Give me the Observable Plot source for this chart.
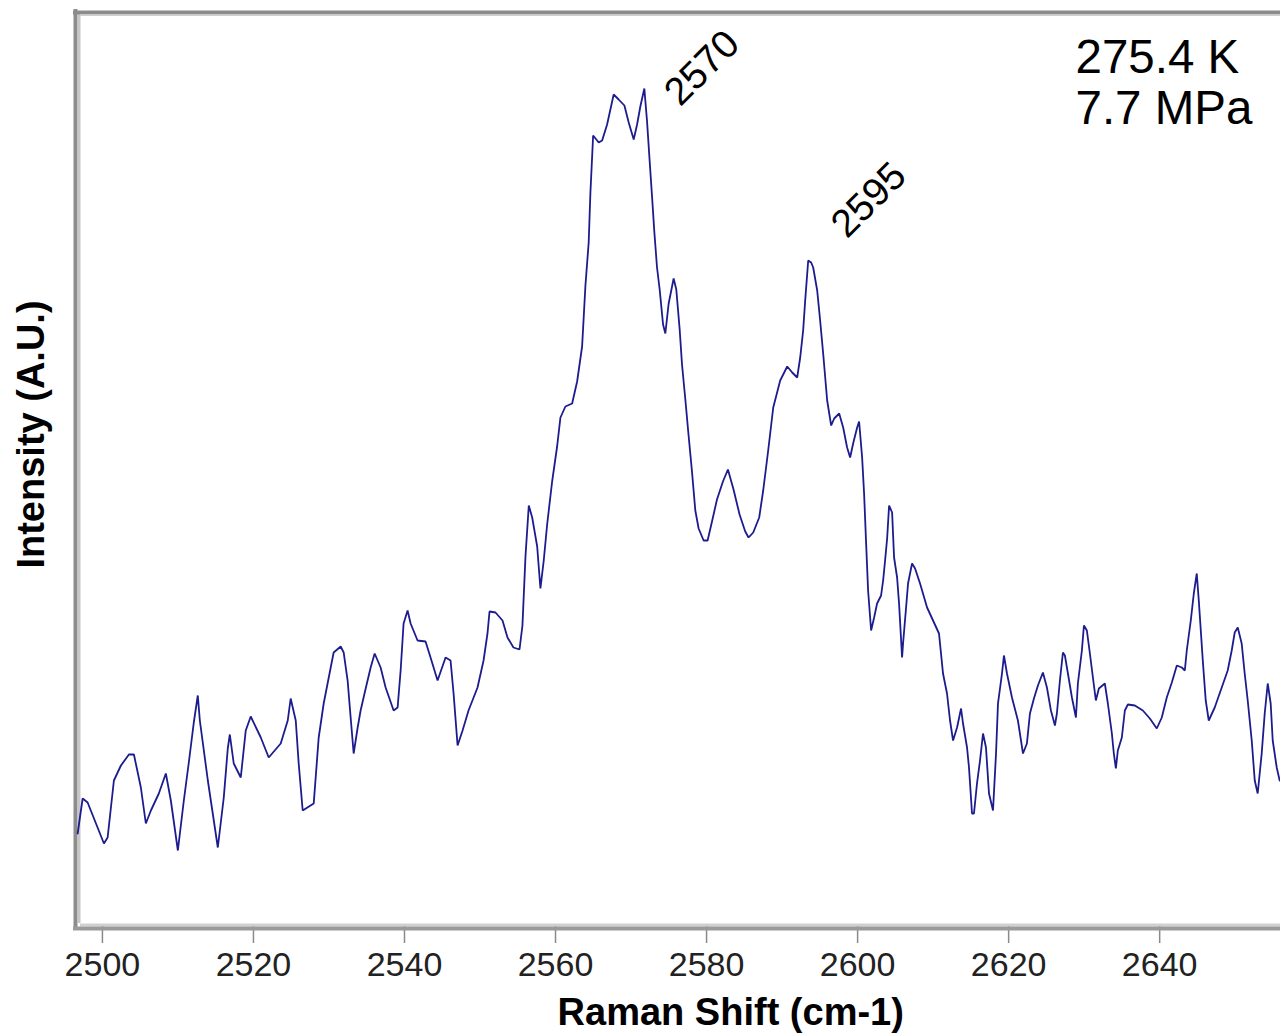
<!DOCTYPE html>
<html>
<head>
<meta charset="utf-8">
<script src="https://cdn.jsdelivr.net/npm/d3@7"></script>
<script src="https://cdn.jsdelivr.net/npm/@observablehq/plot@0.6"></script>
<style>
  html, body { margin: 0; padding: 0; background: #ffffff; }
  #chart svg { display: block; }
</style>
</head>
<body>
<div id="chart"></div>
<script>
// Raman shift (cm-1) of each sampled point of the spectrum
const ramanShift = [
  2496.72, 2497.38, 2498.04, 2500.20, 2500.69, 2501.52, 2502.45, 2503.51, 2504.17, 2505.09,
  2505.75, 2506.42, 2507.47, 2508.40, 2509.06, 2509.99, 2510.78, 2511.44, 2512.10, 2512.63,
  2512.90, 2513.96, 2515.28, 2516.07, 2516.60, 2516.87, 2517.39, 2518.32, 2518.98, 2519.64,
  2520.97, 2522.02, 2523.61, 2524.54, 2524.93, 2525.60, 2525.99, 2526.52, 2527.98, 2528.64,
  2529.30, 2530.23, 2530.62, 2531.55, 2531.95, 2532.47, 2532.87, 2533.27, 2533.80, 2534.19,
  2534.86, 2535.52, 2536.05, 2536.84, 2537.50, 2538.56, 2539.09, 2539.49, 2539.88, 2540.41,
  2540.81, 2541.73, 2542.79, 2543.45, 2544.38, 2545.44, 2546.10, 2546.50, 2547.03, 2547.69,
  2548.48, 2549.67, 2550.47, 2550.99, 2551.26, 2552.05, 2552.98, 2553.64, 2554.43, 2555.23,
  2555.62, 2556.02, 2556.46, 2556.91, 2557.57, 2558.00, 2558.44, 2558.89, 2559.55, 2560.21,
  2560.65, 2561.31, 2562.20, 2562.86, 2563.52, 2563.96, 2564.39, 2564.62, 2564.98, 2565.72,
  2566.17, 2566.83, 2567.70, 2568.36, 2569.12, 2569.69, 2570.35, 2570.80, 2571.23, 2571.76,
  2572.12, 2572.46, 2572.78, 2573.08, 2573.44, 2573.79, 2574.24, 2574.54, 2574.98, 2575.64,
  2575.99, 2576.43, 2576.75, 2577.19, 2577.62, 2578.07, 2578.51, 2578.95, 2579.61, 2580.14,
  2580.72, 2581.38, 2582.17, 2582.83, 2583.57, 2584.37, 2585.12, 2585.56, 2586.18, 2586.97,
  2587.50, 2588.16, 2588.83, 2589.75, 2590.68, 2591.34, 2592.00, 2592.40, 2592.79, 2593.06,
  2593.46, 2593.85, 2594.12, 2594.65, 2595.04, 2595.44, 2595.97, 2596.50, 2596.90, 2597.56,
  2598.09, 2598.61, 2599.01, 2599.41, 2599.94, 2600.20, 2600.60, 2600.86, 2601.13, 2601.39,
  2601.79, 2602.19, 2602.58, 2603.11, 2603.38, 2603.64, 2603.91, 2604.17, 2604.57, 2604.83,
  2605.23, 2605.49, 2605.89, 2606.02, 2606.42, 2606.68, 2607.21, 2607.61, 2608.27, 2609.20,
  2609.99, 2610.78, 2611.31, 2611.84, 2612.24, 2612.64, 2613.17, 2613.70, 2613.96, 2614.49,
  2614.75, 2615.15, 2615.41, 2615.81, 2616.21, 2616.61, 2617.00, 2617.40, 2617.93, 2618.33,
  2618.59, 2619.12, 2619.38, 2619.78, 2620.44, 2621.23, 2621.90, 2622.42, 2622.82, 2623.35,
  2623.88, 2624.54, 2625.07, 2625.60, 2626.13, 2626.39, 2626.79, 2627.19, 2627.45, 2627.85,
  2628.38, 2628.91, 2629.17, 2629.70, 2629.97, 2630.36, 2630.76, 2631.16, 2631.55, 2631.95,
  2632.74, 2633.14, 2633.67, 2633.93, 2634.20, 2634.46, 2634.99, 2635.39, 2635.79, 2636.71,
  2637.77, 2638.70, 2639.62, 2640.28, 2640.94, 2641.61, 2642.27, 2642.93, 2643.33, 2643.59,
  2644.12, 2644.52, 2644.91, 2645.18, 2645.71, 2646.10, 2646.50, 2647.29, 2648.22, 2649.01,
  2649.54, 2649.94, 2650.34, 2650.86, 2651.26, 2651.66, 2652.19, 2652.59, 2652.98, 2653.51,
  2653.91, 2654.31, 2654.70, 2654.97, 2655.50, 2655.89
];

// Intensity (arbitrary units) at each Raman shift
const intensity = [
  92, 127, 123, 82, 88, 145, 160, 171, 171, 138,
  102, 115, 132, 152, 125, 75, 125, 163, 203, 230,
  205, 145, 78, 128, 177, 191, 162, 148, 195, 209,
  188, 168, 182, 205, 227, 205, 162, 115, 122, 188,
  222, 258, 273, 279, 273, 245, 208, 172, 198, 215,
  237, 258, 272, 258, 238, 215, 218, 255, 302, 315,
  302, 285, 284, 268, 245, 268, 265, 232, 180, 195,
  215, 238, 265, 292, 314, 313, 305, 288, 278, 276,
  300, 369, 420, 408, 379, 337, 365, 401, 444, 479,
  508, 519, 522, 544, 579, 640, 683, 733, 790, 783,
  785, 801, 831, 826, 820, 803, 786, 801, 819, 837,
  804, 765, 729, 694, 658, 636, 601, 592, 622, 647,
  636, 597, 561, 526, 490, 454, 415, 397, 385, 385,
  404, 426, 444, 456, 436, 411, 394, 388, 393, 408,
  435, 475, 518, 545, 559, 553, 548, 568, 595, 625,
  665, 663, 658, 635, 605, 572, 525, 500, 507, 512,
  498, 478, 468, 482, 498, 504, 468, 432, 382, 335,
  295, 308, 322, 330, 345, 365, 387, 420, 413, 368,
  348, 322, 268, 282, 318, 342, 362, 357, 342, 318,
  305, 292, 252, 232, 205, 185, 198, 217, 202, 178,
  158, 112, 112, 142, 165, 192, 178, 132, 115, 172,
  222, 252, 270, 252, 228, 205, 172, 182, 212, 227,
  240, 253, 238, 215, 200, 212, 245, 273, 270, 252,
  228, 208, 242, 275, 300, 295, 272, 248, 225, 237,
  242, 222, 192, 172, 157, 175, 188, 215, 221, 220,
  215, 207, 197, 208, 228, 243, 260, 258, 255, 275,
  305, 332, 352, 325, 265, 225, 205, 218, 238, 255,
  275, 293, 298, 282, 252, 225, 185, 145, 132, 172,
  212, 242, 222, 185, 158, 145
];

// Axis ticks and domains
const xTicks = [2500, 2520, 2540, 2560, 2580, 2600, 2620, 2640];
const xDomain = [2496.7, 2656];
const yDomain = [0, 913];

// Peak annotations (text, anchored at the baseline start in data space)
const peakLabels = ["2570", "2595"];
const peakLabelShift = [2576.5, 2598.6];
const peakLabelIntensity = [818, 686];

// Conditions and axis titles
const conditions = ["275.4 K", "7.7 MPa"];
const xTitle = "Raman Shift (cm-1)";
const xTitleShift = 2583.2;
const yTitle = "Intensity (A.U.)";
const yTitleIntensity = 491;

const spectrum = ramanShift.map((x, i) => ({x, y: intensity[i]}));
const peaks = peakLabels.map((t, i) => ({t, x: peakLabelShift[i], y: peakLabelIntensity[i]}));

const FONT = "'Liberation Sans', Arial, Helvetica, sans-serif";

const chart = Plot.plot({
  width: 1280,
  height: 1036,
  marginLeft: 77,
  marginRight: 0,
  marginTop: 12,
  marginBottom: 111,
  style: {fontFamily: FONT, background: "#ffffff", overflow: "visible"},
  x: {domain: xDomain, axis: null},
  y: {domain: yDomain, axis: null},
  marks: [
    // x axis ticks and labels
    Plot.axisX(xTicks, {
      anchor: "bottom",
      tickSize: 18,
      tickPadding: 8,
      tickFormat: d => String(d),
      fontSize: 34,
      stroke: "#8a8a8a",
      strokeWidth: 1.5,
      fill: "#222222",
      label: null
    }),
    // frame: left border (dark outer + light inner)
    Plot.ruleX([xDomain[0]], {stroke: "#8c8c8c", strokeWidth: 4, dx: -2, insetTop: -3, insetBottom: -5}),
    Plot.ruleX([xDomain[0]], {stroke: "#c6c6c6", strokeWidth: 3, dx: 1.5, insetTop: 2, insetBottom: 2}),
    // frame: top border
    Plot.ruleY([yDomain[1]], {stroke: "#8c8c8c", strokeWidth: 4, insetLeft: -4}),
    Plot.ruleY([yDomain[1]], {stroke: "#cfcfcf", strokeWidth: 1.5, dy: 2.8, insetLeft: 3}),
    // frame: bottom border
    Plot.ruleY([yDomain[0]], {stroke: "#d0d0d0", strokeWidth: 3, dy: -0.5, insetLeft: 3}),
    Plot.ruleY([yDomain[0]], {stroke: "#9a9a9a", strokeWidth: 4, dy: 3, insetLeft: -4}),
    // spectrum
    Plot.line(spectrum, {x: "x", y: "y", stroke: "#1c1c8e", strokeWidth: 1.8, strokeLinejoin: "miter"}),
    // peak annotations
    Plot.text(peaks, {
      x: "x", y: "y", text: "t",
      rotate: -45, textAnchor: "start", lineAnchor: "bottom",
      fontSize: 39, fill: "#000000"
    }),
    // conditions
    Plot.text([conditions.join("\n")], {
      frameAnchor: "top-right", textAnchor: "start", lineAnchor: "bottom",
      dx: -205, dy: 111, fontSize: 47.5, lineHeight: 1.053, fill: "#000000"
    }),
    // x title
    Plot.text([xTitle], {
      x: () => xTitleShift, frameAnchor: "bottom", textAnchor: "middle", lineAnchor: "bottom",
      dy: 99, fontSize: 38, fontWeight: "bold", fill: "#000000"
    }),
    // y title
    Plot.text([yTitle], {
      y: () => yTitleIntensity, frameAnchor: "left", rotate: -90,
      textAnchor: "middle", lineAnchor: "middle",
      dx: -46, fontSize: 38, fontWeight: "bold", fill: "#000000"
    })
  ]
});

document.getElementById("chart").appendChild(chart);
</script>
</body>
</html>
